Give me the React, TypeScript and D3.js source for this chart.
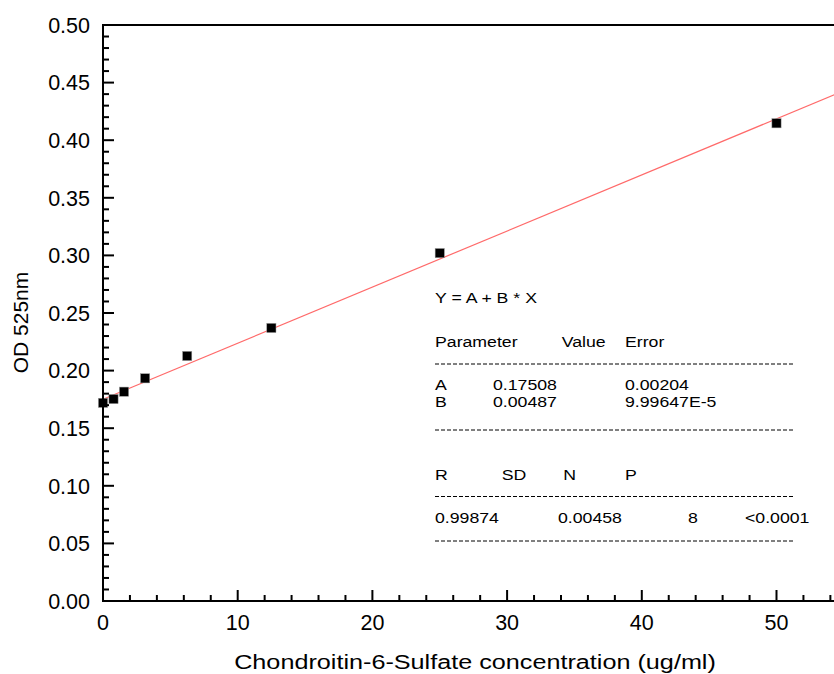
import React from "react";
import * as d3 from "d3";

const xValues = [0, 0.78, 1.56, 3.125, 6.25, 12.5, 25, 50];
const yValues = [0.172, 0.1753, 0.1817, 0.1933, 0.2127, 0.237, 0.302, 0.4147];
const fitA = 0.17508;
const fitB = 0.00487;
const yTicks = [0, 0.05, 0.1, 0.15, 0.2, 0.25, 0.3, 0.35, 0.4, 0.45, 0.5];
const xTicks = [0, 10, 20, 30, 40, 50];
const xTitle = "Chondroitin-6-Sulfate concentration (ug/ml)";
const yTitle = "OD 525nm";

const W = 834, H = 674;
const left = 103, top = 25, bottom = 601;

export default function App() {
  const x = d3.scaleLinear().domain([0, 10]).range([left, 237.7]);
  const xMax = x.invert(W + 5);
  const y = d3.scaleLinear().domain([0, 0.5]).range([bottom, top]);
  const xMinor = d3.range(0, 56, 2).filter((v) => v % 10 !== 0);
  const yMinor = d3.range(0, 51, 1).filter((v) => v % 5 !== 0).map((v) => v / 100);
  const line = d3.line<number>().x((d) => x(d)).y((d) => y(fitA + fitB * d));
  const font = "'Liberation Sans', Arial, sans-serif";
  const sx = 1.18;
  const T = (px: number, py: number, s: string, key?: string) => (
    <text key={key} transform={`translate(${px},${py}) scale(${sx},1)`} fontSize={15} fontFamily={font} fill="#000">{s}</text>
  );
  const dash = (py: number) => (
    <line x1={435} x2={795} y1={py} y2={py} stroke="#000" strokeWidth={1} strokeDasharray="4,2" />
  );
  return (
    <svg width={W} height={H} style={{ position: "absolute", left: 0, top: 0, background: "#fff" }}>
      <rect width={W} height={H} fill="#fff" />
      <path d={line([0, xMax]) || ""} stroke="#ff6a6a" strokeWidth={1.2} fill="none" />
      {xValues.map((v, i) => (
        <rect key={i} x={x(v) - 4.6} y={y(yValues[i]) - 4.6} width={9.2} height={9.2} fill="#000" stroke="#999" strokeWidth={0.5} />
      ))}
      <line x1={left} x2={W + 10} y1={top} y2={top} stroke="#000" strokeWidth={2} />
      <line x1={left} x2={left} y1={top - 1} y2={bottom + 1} stroke="#000" strokeWidth={2} />
      <line x1={left - 1} x2={W + 10} y1={bottom} y2={bottom} stroke="#000" strokeWidth={2} />
      {yTicks.map((t) => (
        <g key={"yt" + t}>
          <line x1={left} x2={left + 11} y1={y(t)} y2={y(t)} stroke="#000" strokeWidth={2} />
          <text x={90} y={y(t) + 7.8} textAnchor="end" fontSize={21.5} fontFamily={font}>{t.toFixed(2)}</text>
        </g>
      ))}
      {yMinor.map((t) => (
        <line key={"ym" + t} x1={left} x2={left + 6} y1={y(t)} y2={y(t)} stroke="#000" strokeWidth={2} />
      ))}
      {xTicks.map((t) => (
        <g key={"xt" + t}>
          <line x1={x(t)} x2={x(t)} y1={bottom} y2={bottom - 11} stroke="#000" strokeWidth={2} />
          <text x={x(t)} y={630} textAnchor="middle" fontSize={21.5} fontFamily={font}>{t}</text>
        </g>
      ))}
      {xMinor.map((t) => (
        <line key={"xm" + t} x1={x(t)} x2={x(t)} y1={bottom} y2={bottom - 6} stroke="#000" strokeWidth={2} />
      ))}
      <text transform={`translate(${(233 + 717) / 2},668.5) scale(1.2,1)`} textAnchor="middle" fontSize={21} fontFamily={font}>{xTitle}</text>
      <text transform="translate(28,322.5) rotate(-90)" textAnchor="middle" fontSize={21} fontFamily={font}>{yTitle}</text>
      {T(435, 303, "Y = A + B * X")}
      {T(435, 346.7, "Parameter")}
      {T(561.7, 346.7, "Value")}
      {T(625, 346.7, "Error")}
      {dash(364)}
      {T(435, 390, "A")}
      {T(493, 390, "0.17508")}
      {T(625, 390, "0.00204")}
      {T(435, 406.7, "B")}
      {T(493, 406.7, "0.00487")}
      {T(625, 406.7, "9.99647E-5")}
      {dash(430)}
      {T(435, 479.5, "R")}
      {T(501.7, 479.5, "SD")}
      {T(563.3, 479.5, "N")}
      {T(625, 479.5, "P")}
      {dash(496.5)}
      {T(435, 523, "0.99874")}
      {T(558, 523, "0.00458")}
      {T(688, 523, "8")}
      {T(745, 523, "<0.0001")}
      {dash(541)}
    </svg>
  );
}
